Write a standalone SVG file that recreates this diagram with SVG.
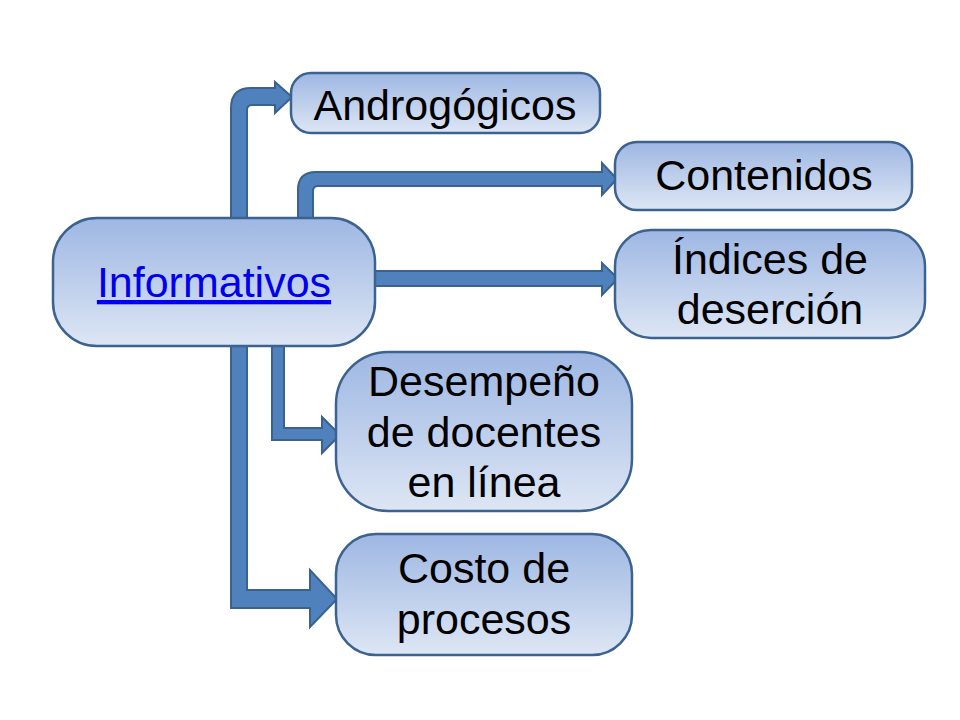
<svg xmlns="http://www.w3.org/2000/svg" width="960" height="720" viewBox="0 0 960 720">
<defs>
<linearGradient id="g" x1="0" y1="0" x2="0" y2="1">
<stop offset="0" stop-color="#9EB7E3"/>
<stop offset="1" stop-color="#DDE6F4"/>
</linearGradient>
<style>
.node{fill:url(#g);stroke:#3C6290;stroke-width:2.5}
.arr{fill:#4F81BD;stroke:#3A6190;stroke-width:2;stroke-linejoin:miter}
.t{font-family:"Liberation Sans",Arial,sans-serif;font-size:43px;fill:#000;text-anchor:middle}
.link{fill:#0000EE;text-decoration:underline}
</style>
</defs>
<rect width="960" height="720" fill="#fff"/>
<g id="connectors">
<path class="arr" d="M231,240 L231,108 Q231,88 251,88 L275,88 L275,82 L292,97 L275,113 L275,105 L252,105 Q247,105 247,110 L247,240 Z"/>
<path class="arr" d="M298,240 L298,190 Q298,172 316,172 L602,172 L602,163 L617,179 L602,195 L602,186 L318,186 Q313,186 313,191 L313,240 Z"/>
<path class="arr" d="M360,271 L602,271 L602,263 L618,278.5 L602,295 L602,286 L360,286 Z"/>
<path class="arr" d="M272,330 L272,440 L322,440 L322,453 L340,435 L322,417 L322,428 L284,428 L284,330 Z"/>
<path class="arr" d="M231,330 L231,608 L310,608 L310,627 L337,599 L310,570 L310,590 L247,590 L247,330 Z"/>
</g>
<g id="informativos">
<rect class="node" x="53" y="218" width="322" height="128" rx="44" ry="44"/>
<text class="t link" x="214" y="297">Informativos</text>
</g>
<g id="androgogicos">
<rect class="node" x="291" y="73" width="309" height="60" rx="20" ry="20"/>
<text class="t" x="445" y="120">Androgógicos</text>
</g>
<g id="contenidos">
<rect class="node" x="615" y="142" width="297" height="68" rx="22" ry="22"/>
<text class="t" x="764" y="190">Contenidos</text>
</g>
<g id="indices">
<rect class="node" x="615" y="230" width="310" height="108" rx="36" ry="36"/>
<text class="t" x="770" y="274">Índices de</text>
<text class="t" x="770" y="324">deserción</text>
</g>
<g id="desempeno">
<rect class="node" x="336" y="352" width="296" height="159" rx="52" ry="52"/>
<text class="t" x="484" y="396">Desempeño</text>
<text class="t" x="484" y="447">de docentes</text>
<text class="t" x="484" y="497">en línea</text>
</g>
<g id="costo">
<rect class="node" x="336" y="534" width="296" height="121" rx="40" ry="40"/>
<text class="t" x="484" y="583">Costo de</text>
<text class="t" x="484" y="634">procesos</text>
</g>
</svg>
